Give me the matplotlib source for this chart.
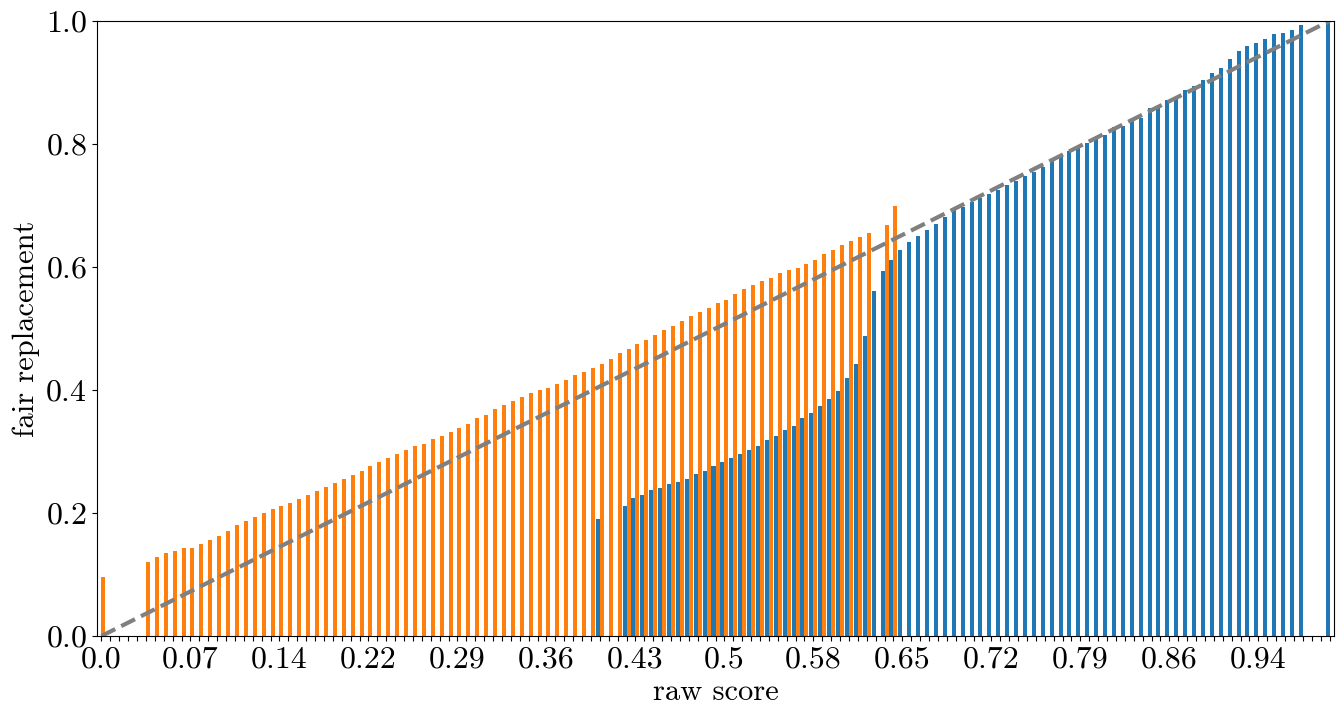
import numpy as np
import matplotlib.pyplot as plt

plt.rcParams['font.family'] = 'serif'
plt.rcParams['font.serif'] = ['cmr10']
plt.rcParams['mathtext.fontset'] = 'cm'
plt.rcParams['axes.formatter.use_mathtext'] = True
plt.rcParams['font.size'] = 22

nan = np.nan

# blue series (one value per raw score bin, nan = no bar)
blue_vals = [nan] * 56 + [
  0.191, nan, nan, 0.211,
  0.224, 0.229, 0.237, 0.240, 0.247, 0.251, 0.256, 0.263, 0.268, 0.276,
  0.283, 0.289, 0.296, 0.302, 0.309, 0.318, 0.325, 0.335, 0.342, 0.354,
  0.363, 0.374, 0.386, 0.398, 0.419, 0.442, 0.488, 0.561, 0.593, 0.611,
  0.628, 0.640, 0.650, 0.660, 0.670, 0.681, 0.695, 0.698, 0.706, 0.712,
  0.719, 0.725, 0.733, 0.740, 0.748, 0.755, 0.763, 0.775, 0.780, 0.789,
  0.795, 0.802, 0.812, 0.815, 0.828, 0.829, 0.841, 0.842, 0.858, 0.861,
  0.872, 0.877, 0.888, 0.894, 0.904, 0.915, 0.923, 0.938, 0.951, 0.959,
  0.964, 0.971, 0.979, 0.980, 0.986, 0.993, nan, nan, 1.0]

# orange series
orange_vals = [
  0.096, nan, nan, nan, nan, 0.120, 0.128, 0.135, 0.138, 0.143,
  0.143, 0.150, 0.156, 0.163, 0.170, 0.180, 0.187, 0.193, 0.200, 0.206,
  0.211, 0.216, 0.222, 0.229, 0.235, 0.242, 0.249, 0.255, 0.262, 0.268,
  0.276, 0.283, 0.289, 0.296, 0.302, 0.309, 0.313, 0.321, 0.325, 0.332,
  0.338, 0.345, 0.354, 0.360, 0.369, 0.376, 0.382, 0.389, 0.395, 0.400,
  0.404, 0.410, 0.416, 0.424, 0.429, 0.436, 0.443, 0.451, 0.460, 0.467,
  0.475, 0.482, 0.489, 0.497, 0.504, 0.512, 0.520, 0.527, 0.533, 0.541,
  0.547, 0.556, 0.564, 0.570, 0.577, 0.582, 0.590, 0.595, 0.598, 0.605,
  0.611, 0.621, 0.628, 0.635, 0.643, 0.649, 0.655, nan, 0.668, 0.699,
] + [nan] * 49

tick_labels = ['0.0', '0.07', '0.14', '0.22', '0.29', '0.36', '0.43',
               '0.5', '0.58', '0.65', '0.72', '0.79', '0.86', '0.94']

n = len(blue_vals)
x = np.arange(n)
w = 0.45

fig = plt.figure(figsize=(13.44, 7.21), dpi=100)
ax = fig.add_axes([97/1344, 85/721, (1334-97)/1344, (636-21)/721])

ax.bar(x - w/2, np.array(blue_vals, dtype=float), w, color='C0')
ax.bar(x + w/2, np.array(orange_vals, dtype=float), w, color='C1')
ax.plot([0, n-1], [0, 1], '--', color='gray', lw=3)

ax.set_xlim(-0.5, n-0.5)
ax.set_ylim(0, 1)
labels = [''] * n
for k, lab in enumerate(tick_labels):
  labels[10*k] = lab
ax.set_xticks(x)
ax.set_xticklabels(labels)
ax.tick_params(labelsize=23)
ax.set_xlabel('raw score', fontsize=22)
ax.set_ylabel('fair replacement', fontsize=22)

fig.savefig('out.png', dpi=100)
